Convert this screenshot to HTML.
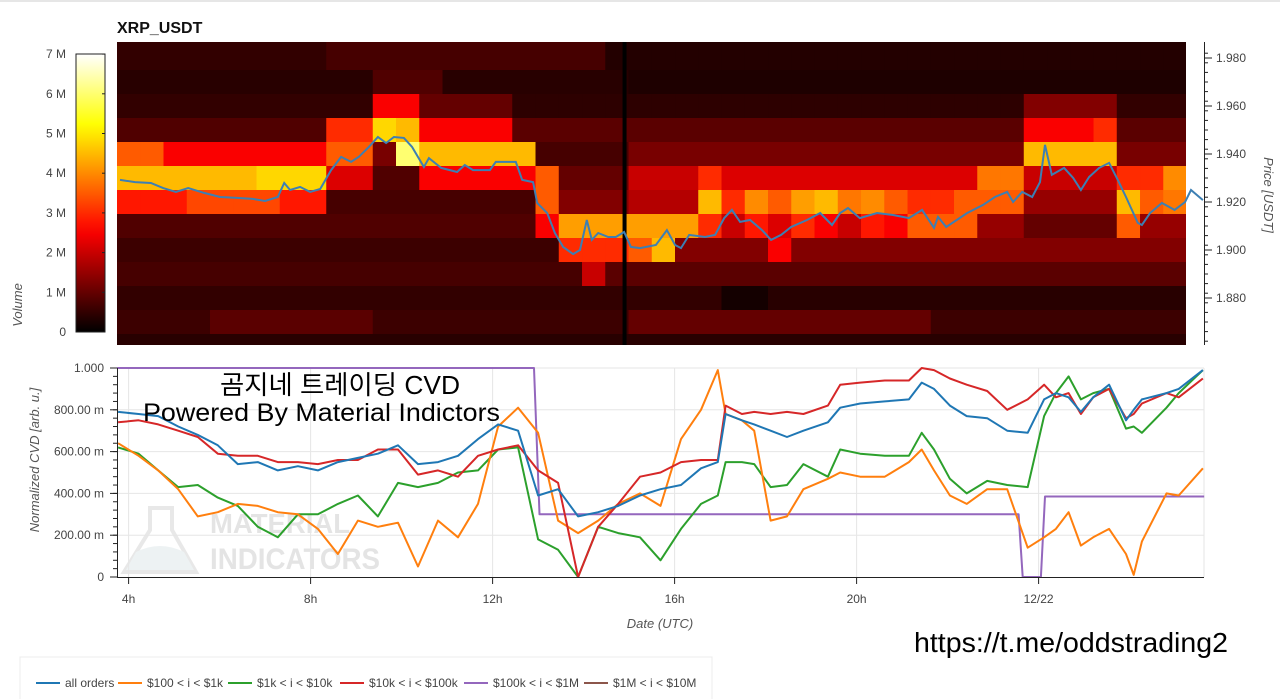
<!DOCTYPE html>
<html><head><meta charset="utf-8"><style>
html,body{margin:0;padding:0;background:#fff;}
svg{display:block;font-family:"Liberation Sans","Noto Sans CJK KR",sans-serif;}
</style></head><body>
<svg id="root" width="1280" height="699" viewBox="0 0 1280 699" xmlns="http://www.w3.org/2000/svg">
<rect x="0" y="0" width="1280" height="699" fill="#fff"/>
<line x1="0" y1="1" x2="1280" y2="1" stroke="#e6e6e6" stroke-width="2"/>
<text x="117" y="33" font-size="16" font-weight="bold" fill="#111">XRP_USDT</text>
<defs>
<clipPath id="hmClip"><rect x="117" y="42" width="1069" height="303"/></clipPath>
<clipPath id="priceClip"><rect x="117" y="42" width="1088" height="303"/></clipPath>
<clipPath id="cvdClip"><rect x="116" y="366" width="1090" height="213"/></clipPath>
<linearGradient id="cbGrad" x1="0" y1="1" x2="0" y2="0"></linearGradient>
</defs>
<g id="heatmap"><rect x="117" y="42" width="1069" height="303" fill="#2a0000"/></g>
<g id="priceLayer"></g>
<g id="priceAxis"></g>
<text transform="translate(1264,195) rotate(90)" text-anchor="middle" font-size="13" font-style="italic" fill="#555">Price [USDT]</text>
<g id="colorbar"></g>
<text transform="translate(22,305) rotate(-90)" text-anchor="middle" font-size="13" font-style="italic" fill="#555">Volume</text>
<g opacity="0.55">
<path d="M150 508 L172 508 L172 530 L196 572 L124 572 L150 530 Z" fill="none" stroke="#d6d6d6" stroke-width="4"/>
<path d="M136 552 Q160 540 184 552 L194 570 L126 570 Z" fill="#dfe8ea"/>
<text x="210" y="533" font-size="28" font-weight="bold" fill="#cfcfcf" textLength="140" lengthAdjust="spacingAndGlyphs">MATERIAL</text>
<text x="210" y="569" font-size="30" font-weight="bold" fill="#cfcfcf" textLength="170" lengthAdjust="spacingAndGlyphs">INDICATORS</text>
</g>
<g id="cvdGrid"></g>
<g id="cvdLines" clip-path="url(#cvdClip)"></g>
<g id="cvdAxes"></g>
<text transform="translate(39,460) rotate(-90)" text-anchor="middle" font-size="13" font-style="italic" fill="#555">Normalized CVD [arb. u.]</text>
<text x="660" y="628" text-anchor="middle" font-size="13" font-style="italic" fill="#555">Date (UTC)</text>
<text x="340" y="394" text-anchor="middle" font-size="26" fill="#000" textLength="240" lengthAdjust="spacingAndGlyphs">곰지네 트레이딩 CVD</text>
<text x="143" y="421" font-size="25" fill="#000" textLength="357" lengthAdjust="spacingAndGlyphs">Powered By Material Indictors</text>
<text x="914" y="652" font-size="28" fill="#000" textLength="314" lengthAdjust="spacingAndGlyphs">https://t.me/oddstrading2</text>
<rect x="20" y="657" width="692" height="46" fill="#fff" stroke="#ececec"/>
<g id="legend"></g>
</svg>
<script>
// ---- time axis ----
const tickHours = [4, 8, 12, 16, 20, 24];
const tickLabels = ["4h", "8h", "12h", "16h", "20h", "12/22"];
// ---- heatmap data (volume in M, rows = price bins, cols = 0.511h bins) ----
const hmPrices = [1.98,1.97,1.96,1.95,1.94,1.93,1.92,1.91,1.90,1.89,1.88,1.87,1.86];
const hmT0 = 3.745;
const hmStep = 0.511;
const rowA = [.5,.5,.5,.5,.5,.5,.5,.5,.5,.7,.7,.7,.7,.7,.7,.7,.7,.7,.7,.7,.7,.35,.35,.35,.35,.35,.35,.35,.35,.35,.35,.35,.35,.35,.35,.35,.35,.35,.35,.35,.35,.35,.35,.35,.35,.35];
const rowB = [.4,.4,.4,.4,.4,.4,.4,.4,.4,.4,.4,.8,.8,.8,.4,.4,.4,.4,.4,.4,.4,.4,.3,.3,.3,.3,.3,.3,.3,.3,.3,.3,.3,.3,.3,.3,.3,.3,.3,.3,.3,.3,.3,.3,.3,.3];
const rowC = [.5,.5,.5,.5,.5,.5,.5,.5,.5,.5,.5,2.5,2.5,1,1,1,1,.45,.45,.45,.45,.45,.45,.45,.45,.45,.45,.45,.45,.45,.45,.45,.45,.45,.45,.45,.45,.45,.45,1.3,1.3,1.3,1.3,.5,.5,.5];
const rowD = [.8,.8,.8,.8,.8,.8,.8,.8,.8,3,3,4.8,4.5,2.5,2.5,2.5,2.5,.9,.9,.9,.9,.9,.9,.9,.9,.9,.9,.9,.9,.9,.9,.9,.9,.9,.9,.9,.9,.9,.9,2.5,2.5,2.5,3,.9,.9,.9];
const rowE = [3.5,3.5,2.5,2.5,2.5,2.5,2.5,2.5,2.5,3.5,3.5,1.2,6,4.5,4.5,4.5,4.5,4.5,.7,.7,.7,.7,1.2,1.2,1.2,1.2,1.2,1.2,1.2,1.2,1.2,1.2,1.2,1.2,1.2,1.2,1.2,1.2,1.2,4.5,4.5,4.5,4.5,1.2,1.2,1.2];
const rowF = [4.5,4.5,4.5,4.5,4.5,4.5,4.8,4.8,4.8,2.2,2.2,.8,.8,2.5,2.5,2.5,2.5,2.5,3.5,1,1,1,2,2,2,3,2.2,2.2,2.2,2.2,2.2,2.2,2.2,2.2,2.2,2.2,2.2,3.8,3.8,2,2,2,2,3,3,4];
const rowG = [2.8,2.8,2.8,3.3,3.3,3.3,3.3,2.8,2.8,.7,.7,.7,.7,.7,.7,.7,.7,.7,3.5,1.3,1.3,1.3,1.8,1.8,1.8,4.5,3,4,3.5,4.2,4.5,3.8,4,3.5,3,3,3.5,3.5,3.5,1.5,1.5,1.5,1.5,4.5,3.5,3.8];
const rowH = [.8,.8,.8,.8,.8,.8,.8,.8,.8,.8,.8,.8,.8,.8,.8,.8,.8,.8,2.5,4.2,4.2,4.2,4.2,4.2,4.2,3,2,2.8,2.2,3,2.5,2,2.8,2.5,3.5,3.5,3.5,1.5,1.5,1,1,1,1,3.5,1.5,1.5];
const rowI = [.6,.6,.6,.6,.6,.6,.6,.6,.6,.6,.6,.6,.6,.6,.6,.6,.6,.6,.6,3,3,3,3.5,4.5,1.3,1.3,1.3,1.3,2.5,1.3,1.3,1.3,1.3,1.3,1.3,1.3,1.3,1.3,1.3,1.3,1.3,1.3,1.3,1.3,1.3,1.3];
const rowJ = [.7,.7,.7,.7,.7,.7,.7,.7,.7,.7,.7,.7,.7,.7,.7,.7,.7,.7,.7,.7,2,.9,.9,.9,.9,.9,.9,.9,.9,.9,.9,.9,.9,.9,.9,.9,.9,.9,.9,.9,.9,.9,.9,.9,.9,.9];
const rowK = [.5,.5,.5,.5,.5,.5,.5,.5,.5,.5,.5,.5,.5,.5,.5,.5,.5,.5,.5,.5,.5,.5,.5,.5,.5,.5,.2,.2,.4,.4,.4,.4,.4,.4,.4,.4,.4,.4,.4,.4,.4,.4,.4,.4,.4,.4];
const rowL = [.6,.6,.6,.6,.9,.9,.9,.9,.9,.9,.9,.6,.6,.6,.6,.6,.6,.6,.6,.6,.6,.6,1,1,1,1,1,1,1,1,1,1,1,1,1,.6,.6,.6,.6,.6,.6,.6,.6,.6,.6,.6];
const rowM = [.4,.4,.4,.4,.4,.4,.4,.4,.4,.4,.4,.4,.4,.4,.4,.4,.4,.4,.4,.4,.4,.4,.4,.4,.4,.4,.4,.4,.4,.4,.4,.4,.4,.4,.4,.4,.4,.4,.4,.4,.4,.4,.4,.4,.4,.4];
const hmRows = [rowA,rowB,rowC,rowD,rowE,rowF,rowG,rowH,rowI,rowJ,rowK,rowL,rowM];
const gapTimes = [14.9];
// ---- price line ----
const priceT = [3.81,4.14,4.49,4.76,5.04,5.31,5.66,6.01,6.38,6.73,7.00,7.28,7.42,7.55,7.77,7.99,8.21,8.45,8.67,8.89,9.06,9.28,9.48,9.66,9.83,10.05,10.23,10.49,10.60,10.87,11.22,11.39,11.57,11.94,12.07,12.30,12.51,12.65,12.89,12.98,13.20,13.37,13.55,13.77,13.92,14.07,14.18,14.32,14.54,14.71,14.89,15.04,15.24,15.59,15.83,16.01,16.14,16.32,16.67,16.89,17.09,17.26,17.44,17.66,17.92,18.12,18.34,18.56,18.91,19.20,19.46,19.64,19.81,20.07,20.45,20.80,21.15,21.44,21.70,21.79,21.97,22.43,22.78,23.04,23.31,23.44,23.64,23.86,24.03,24.14,24.29,24.56,24.76,24.93,25.11,25.33,25.55,25.74,25.92,26.18,26.27,26.45,26.71,26.99,27.22,27.35,27.61];
const priceV = [1.9292,1.9283,1.9279,1.9258,1.9242,1.9258,1.9238,1.9221,1.9217,1.9213,1.9204,1.9221,1.9279,1.9250,1.9263,1.9242,1.9254,1.9333,1.9388,1.9367,1.9388,1.9429,1.9471,1.9446,1.9471,1.9467,1.9429,1.9346,1.9383,1.9342,1.9325,1.9354,1.9333,1.9333,1.9367,1.9367,1.9367,1.9292,1.9283,1.9196,1.9154,1.9071,1.9013,1.8983,1.9000,1.9125,1.9042,1.9071,1.9054,1.9054,1.9075,1.9013,1.9008,1.9021,1.9083,1.9021,1.9008,1.9063,1.9054,1.9063,1.9133,1.9167,1.9117,1.9125,1.9083,1.9042,1.9063,1.9096,1.9125,1.9154,1.9104,1.9154,1.9175,1.9133,1.9154,1.9146,1.9133,1.9167,1.9092,1.9138,1.9096,1.9154,1.9188,1.9221,1.9242,1.9200,1.9242,1.9221,1.9283,1.9438,1.9313,1.9342,1.9300,1.9250,1.9304,1.9342,1.9363,1.9292,1.9221,1.9113,1.9104,1.9154,1.9196,1.9167,1.9200,1.9250,1.9208];
const priceTicks = [1.88,1.90,1.92,1.94,1.96,1.98];
const volTicks = [0,1,2,3,4,5,6,7];
// ---- CVD data ----
const cvdT = [3.77,4.22,4.65,5.09,5.52,5.96,6.40,6.84,7.28,7.72,8.16,8.60,9.04,9.48,9.92,10.36,10.80,11.24,11.68,12.12,12.56,13.00,13.44,13.88,14.32,14.76,15.24,15.69,16.14,16.58,16.95,17.12,17.48,17.75,18.11,18.47,18.83,19.37,19.64,20.08,20.62,21.15,21.43,21.70,22.05,22.42,22.87,23.31,23.76,24.12,24.38,24.66,24.93,25.20,25.55,25.92,26.09,26.27,26.81,27.08,27.61];
const cvdAll = [.79,.78,.77,.72,.68,.63,.54,.55,.51,.53,.51,.55,.57,.59,.63,.54,.55,.58,.66,.73,.70,.39,.42,.29,.31,.34,.39,.42,.44,.52,.55,.78,.75,.73,.70,.67,.70,.74,.81,.83,.84,.85,.93,.90,.82,.77,.76,.70,.69,.85,.88,.86,.79,.86,.92,.75,.80,.85,.88,.90,.99];
const cvd100 = [.64,.58,.51,.42,.29,.31,.35,.34,.31,.30,.23,.11,.27,.24,.26,.05,.27,.19,.35,.72,.81,.69,.27,.21,.27,.35,.40,.34,.66,.80,.99,.78,.75,.70,.27,.29,.42,.47,.50,.48,.48,.55,.61,.51,.39,.35,.42,.42,.14,.19,.23,.31,.15,.19,.23,.11,.01,.17,.40,.39,.52];
const cvd1k = [.62,.59,.51,.43,.44,.38,.34,.24,.19,.30,.30,.35,.39,.29,.45,.43,.45,.50,.51,.61,.62,.18,.13,0,.24,.21,.19,.08,.23,.35,.39,.55,.55,.54,.43,.44,.54,.48,.61,.59,.58,.58,.69,.61,.47,.40,.46,.44,.43,.77,.88,.96,.85,.88,.90,.71,.72,.69,.81,.88,.99];
const cvd10k = [.74,.75,.73,.70,.67,.59,.58,.58,.55,.55,.54,.56,.56,.61,.61,.49,.51,.48,.58,.61,.63,.51,.45,0,.24,.35,.48,.50,.55,.56,.56,.82,.78,.79,.78,.79,.78,.82,.92,.93,.94,.94,1.0,.99,.95,.92,.89,.80,.85,.92,.86,.88,.78,.86,.90,.76,.78,.83,.88,.86,.95];
const cvd100kT = [3.745,12.91,13.03,23.56,23.65,24.05,24.14,27.64];
const cvd100kV = [1,1,.30,.30,0,0,.385,.385];
const cvdTicks = [0,0.2,0.4,0.6,0.8,1.0];
const cvdTickLabels = ["0","200.00 m","400.00 m","600.00 m","800.00 m","1.000"];
const legendLabels = ["all orders","$100 < i < $1k","$1k < i < $10k","$10k < i < $100k","$100k < i < $1M","$1M < i < $10M"];
const legendColors = ["#1f77b4","#ff7f0e","#2ca02c","#d62728","#9467bd","#8c564b"];

const NS = "http://www.w3.org/2000/svg";
function mk(tag, attrs, parent) { const e = document.createElementNS(NS, tag); for (const k in attrs) e.setAttribute(k, attrs[k]); parent.appendChild(e); return e; }
function xs(t) { return 117 + (t - 3.745) * 45.5; }
function yP(p) { return 154 + (1.94 - p) * 2400; }
function yV(v) { return 577 - v * 209; }
function hot(v) {
  const f = Math.max(0, Math.min(1, v / 7));
  const r = Math.min(1, f / 0.365), g = Math.max(0, Math.min(1, (f - 0.365) / 0.38)), b = Math.max(0, Math.min(1, (f - 0.746) / 0.254));
  return "rgb(" + Math.round(r * 255) + "," + Math.round(g * 255) + "," + Math.round(b * 255) + ")";
}
// heatmap
const hm = document.getElementById("heatmap");
const hmg = mk("g", {"clip-path": "url(#hmClip)"}, hm);
hmRows.forEach((row, r) => {
  const p = hmPrices[r];
  let y0 = yP(p + 0.005), y1 = yP(p - 0.005);
  if (r === 0) y0 = 40;
  row.forEach((v, c) => {
    const xa = xs(hmT0 + c * hmStep), xb = xs(hmT0 + (c + 1) * hmStep);
    const cell = mk("rect", {x: xa.toFixed(2), y: y0, width: (xb - xa + 0.6).toFixed(2), height: (y1 - y0 + 0.4), fill: hot(v)}, hmg);
    
    
  });
});
gapTimes.forEach(t => {
  const g = mk("rect", {x: xs(t) - 2, y: 42, width: 4, height: 303, fill: "#000"}, hmg);
  
  
});
// price line
const pl = document.getElementById("priceLayer");
let d = priceT.map((t, i) => (i ? "L" : "M") + xs(t).toFixed(1) + " " + yP(priceV[i]).toFixed(1)).join(" ");
const pline = mk("path", {d: d, fill: "none", stroke: "#3d7fb3", "stroke-width": 2, "clip-path": "url(#priceClip)"}, pl);


// price axis
const pa = document.getElementById("priceAxis");
mk("line", {x1: 1204.5, y1: 42, x2: 1204.5, y2: 345, stroke: "#222", "stroke-width": 1}, pa);
for (let p = 1.862; p < 1.984; p += 0.004) { const y = yP(p); mk("line", {x1: 1204, y1: y, x2: 1208, y2: y, stroke: "#222"}, pa); }
priceTicks.forEach(p => {
  const y = yP(p);
  mk("line", {x1: 1204, y1: y, x2: 1212, y2: y, stroke: "#222"}, pa);
  const tx = mk("text", {x: 1216, y: y + 4, "font-size": 12, fill: "#444"}, pa);
  tx.textContent = p.toFixed(3);
  
  
});
// colorbar
const grad = document.getElementById("cbGrad");
for (let i = 0; i <= 20; i++) mk("stop", {offset: (i / 20), "stop-color": hot(7 * i / 20)}, grad);
const cb = document.getElementById("colorbar");
mk("rect", {x: 76, y: 54, width: 29, height: 278, fill: "url(#cbGrad)", stroke: "#222", "stroke-width": 1}, cb);
volTicks.forEach(m => {
  const y = 332 - m * 39.7;
  mk("line", {x1: 102, y1: y, x2: 105, y2: y, stroke: "#222"}, cb);
  const tx = mk("text", {x: 66, y: y + 4, "font-size": 12, fill: "#444", "text-anchor": "end"}, cb);
  tx.textContent = m === 0 ? "0" : m + " M";
  
  
});
// CVD grid & axes
const gg = document.getElementById("cvdGrid");
cvdTicks.forEach(v => { if (v > 0) mk("line", {x1: 117, y1: yV(v), x2: 1204, y2: yV(v), stroke: "#e6e6e6"}, gg); });
tickHours.forEach(h => mk("line", {x1: xs(h), y1: 368, x2: xs(h), y2: 577, stroke: "#e6e6e6"}, gg));
mk("line", {x1: 1204, y1: 368, x2: 1204, y2: 577, stroke: "#e6e6e6"}, gg);
const ax = document.getElementById("cvdAxes");
mk("line", {x1: 117.5, y1: 368, x2: 117.5, y2: 577, stroke: "#222"}, ax);
mk("line", {x1: 117, y1: 577.5, x2: 1204, y2: 577.5, stroke: "#222"}, ax);
for (let v = 0; v <= 1.0001; v += 0.04) mk("line", {x1: 113, y1: yV(v), x2: 117, y2: yV(v), stroke: "#222"}, ax);
cvdTicks.forEach((v, i) => {
  mk("line", {x1: 110, y1: yV(v), x2: 117, y2: yV(v), stroke: "#222"}, ax);
  const tx = mk("text", {x: 104, y: yV(v) + 4, "font-size": 12, fill: "#444", "text-anchor": "end"}, ax);
  tx.textContent = cvdTickLabels[i];
  
  
});
tickHours.forEach((h, i) => {
  mk("line", {x1: xs(h), y1: 577, x2: xs(h), y2: 584, stroke: "#222"}, ax);
  const tx = mk("text", {x: xs(h), y: 603, "font-size": 12, fill: "#444", "text-anchor": "middle"}, ax);
  tx.textContent = tickLabels[i];
  
  
});
// CVD lines
const cl = document.getElementById("cvdLines");
function line(T, V, color, name) {
  const dd = T.map((t, i) => (i ? "L" : "M") + xs(t).toFixed(1) + " " + yV(V[i]).toFixed(1)).join(" ");
  const p = mk("path", {d: dd, fill: "none", stroke: color, "stroke-width": 2, "stroke-linejoin": "round"}, cl);
  
  
}
line(cvd100kT, cvd100kV, legendColors[4], "cvd-100k-1m-line");
line(cvdT, cvd1k, legendColors[2], "cvd-1k-10k-line");
line(cvdT, cvd100, legendColors[1], "cvd-100-1k-line");
line(cvdT, cvd10k, legendColors[3], "cvd-10k-100k-line");
line(cvdT, cvdAll, legendColors[0], "cvd-all-orders-line");
// legend
const lg = document.getElementById("legend");
const legX = [36, 118, 228, 340, 464, 584];
legendLabels.forEach((lab, i) => {
  const g = mk("g", {}, lg);
  
  
  mk("line", {x1: legX[i], y1: 683, x2: legX[i] + 24, y2: 683, stroke: legendColors[i], "stroke-width": 2}, g);
  const tx = mk("text", {x: legX[i] + 29, y: 687, "font-size": 12, fill: "#444"}, g);
  tx.textContent = lab;
});
</script>
</body></html>
